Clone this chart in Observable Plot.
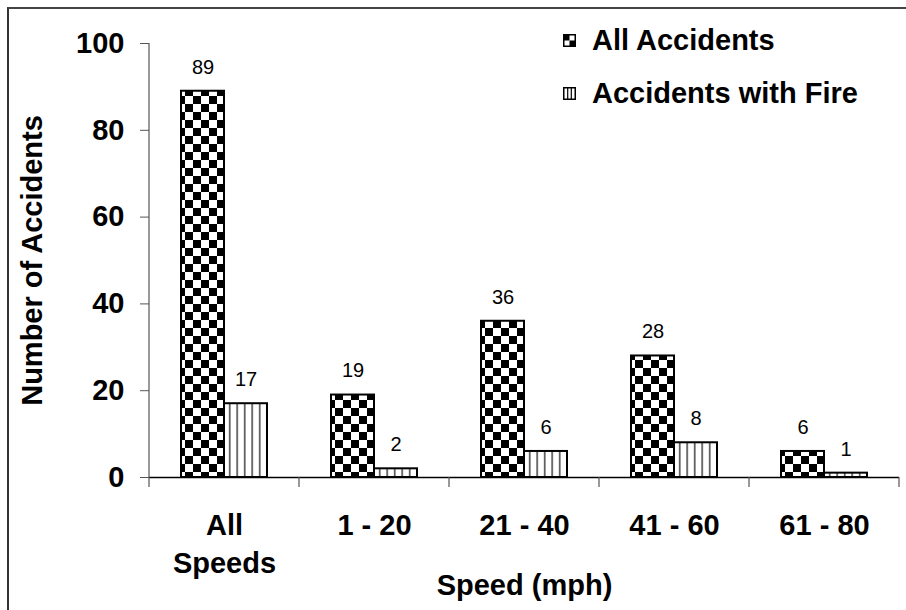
<!DOCTYPE html>
<html><head><meta charset="utf-8">
<script src="https://cdn.jsdelivr.net/npm/d3@7"></script>
<script src="https://cdn.jsdelivr.net/npm/@observablehq/plot@0.6"></script>
<style>
body{margin:0;background:#fff;font-family:"Liberation Sans",Arial,sans-serif;}
#wrap{position:relative;width:906px;height:610px;overflow:hidden;}
#border{position:absolute;left:7px;top:7px;right:-4px;bottom:-4px;border-left:2px solid #333;border-top:2px solid #444;pointer-events:none}
.leg{position:absolute;left:563px;display:flex;align-items:center;font-weight:bold;font-size:29px;color:#000;white-space:nowrap;line-height:1}
.leg svg{margin-right:16px}
</style></head>
<body>
<div id="wrap">
  <div id="chart"></div>
  <div id="border"></div>
  <div class="leg" style="top:26px"><svg width="13" height="13"><rect x="0.75" y="0.75" width="11.5" height="11.5" fill="#fff" stroke="#000" stroke-width="1.5"/><rect x="1" y="1" width="5.5" height="5.5" fill="#000"/><rect x="6.5" y="6.5" width="5.5" height="5.5" fill="#000"/></svg><span id="leg0"></span></div>
  <div class="leg" style="top:79px"><svg width="13" height="13"><rect x="0.75" y="0.75" width="11.5" height="11.5" fill="#fff" stroke="#000" stroke-width="1.5"/><line x1="4.7" y1="1" x2="4.7" y2="12" stroke="#000" stroke-width="1.2"/><line x1="8.3" y1="1" x2="8.3" y2="12" stroke="#000" stroke-width="1.2"/></svg><span id="leg1"></span></div>
</div>
<script>
const categories = ["All Speeds", "1 - 20", "21 - 40", "41 - 60", "61 - 80"];
const series = ["All Accidents", "Accidents with Fire"];
const allAccidents = [89, 19, 36, 28, 6];
const withFire = [17, 2, 6, 8, 1];
const yTicks = [0, 20, 40, 60, 80, 100];

document.getElementById("leg0").textContent = series[0];
document.getElementById("leg1").textContent = series[1];

const rows = categories.flatMap((c, i) => [
  {cat: c, series: series[0], value: allAccidents[i]},
  {cat: c, series: series[1], value: withFire[i]}
]);
const rowsAll = rows.filter(d => d.series === series[0]);
const rowsFire = rows.filter(d => d.series === series[1]);

const font = "'Liberation Sans', Arial, sans-serif";

const plot = Plot.plot({
  width: 906,
  height: 610,
  marginLeft: 148,
  marginRight: 7,
  marginTop: 43,
  marginBottom: 133,
  style: {fontFamily: font, background: "transparent", color: "#000", overflow: "visible"},
  fx: {domain: categories, padding: 0},
  x: {domain: series, paddingInner: 0, paddingOuter: 0.744, axis: null},
  y: {domain: [0, 100]},
  marks: [
    Plot.barY(rowsAll, {fx: "cat", x: "series", y: "value", fill: "url(#checker)", stroke: "#000", strokeWidth: 2}),
    Plot.barY(rowsFire, {fx: "cat", x: "series", y: "value", fill: "url(#stripes)", stroke: "#000", strokeWidth: 2}),
    Plot.text(rows, {fx: "cat", x: "series", y: "value", text: d => String(d.value), dy: -24, fontSize: 20, fill: "#000"}),
    Plot.ruleY([0], {stroke: "#000", strokeWidth: 1.5}),
    Plot.axisY({ticks: yTicks, tickSize: 9, tickPadding: 16, fontSize: 29, fontWeight: "bold",
      label: "Number of Accidents", labelAnchor: "center", labelArrow: "none", labelOffset: 128, fontSize: 29, stroke: "#555"}),
    Plot.axisFx({anchor: "bottom", tickSize: 0, tickPadding: 31, fontSize: 29, fontWeight: "bold", lineHeight: 1.31,
      tickFormat: d => d === "All Speeds" ? "All\nSpeeds" : d,
      label: "Speed (mph)", labelAnchor: "center", labelArrow: "none", labelOffset: 117})
  ]
});

document.getElementById("chart").appendChild(plot);

const svg = d3.select(plot.tagName.toLowerCase() === "svg" ? plot : plot.querySelector("svg"));
const defs = svg.insert("defs", ":first-child");
const chk = defs.append("pattern").attr("id", "checker").attr("patternUnits", "userSpaceOnUse")
  .attr("width", 16).attr("height", 16);
chk.append("rect").attr("width", 16).attr("height", 16).attr("fill", "#fff");
chk.append("rect").attr("width", 8).attr("height", 8).attr("fill", "#000");
chk.append("rect").attr("x", 8).attr("y", 8).attr("width", 8).attr("height", 8).attr("fill", "#000");
const str = defs.append("pattern").attr("id", "stripes").attr("patternUnits", "userSpaceOnUse")
  .attr("width", 7.5).attr("height", 8);
str.append("rect").attr("width", 7.5).attr("height", 8).attr("fill", "#fff");
str.append("rect").attr("x", 3).attr("width", 1.4).attr("height", 8).attr("fill", "#333");

// axis decorations from the library's scales
const fx = plot.scale("fx"), y = plot.scale("y");
const bounds = categories.map(c => fx.apply(c));
bounds.push(bounds[bounds.length - 1] + fx.bandwidth);
const y0 = y.apply(0), yTop = y.apply(100);
const g = svg.append("g");
g.append("line").attr("x1", bounds[0]).attr("x2", bounds[0]).attr("y1", yTop).attr("y2", y0 + 10)
  .attr("stroke", "#555").attr("stroke-width", 1.2);
bounds.slice(1).forEach(bx => {
  g.append("line").attr("x1", bx).attr("x2", bx).attr("y1", y0).attr("y2", y0 + 10)
    .attr("stroke", "#555").attr("stroke-width", 1.2);
});
</script>
</body></html>
